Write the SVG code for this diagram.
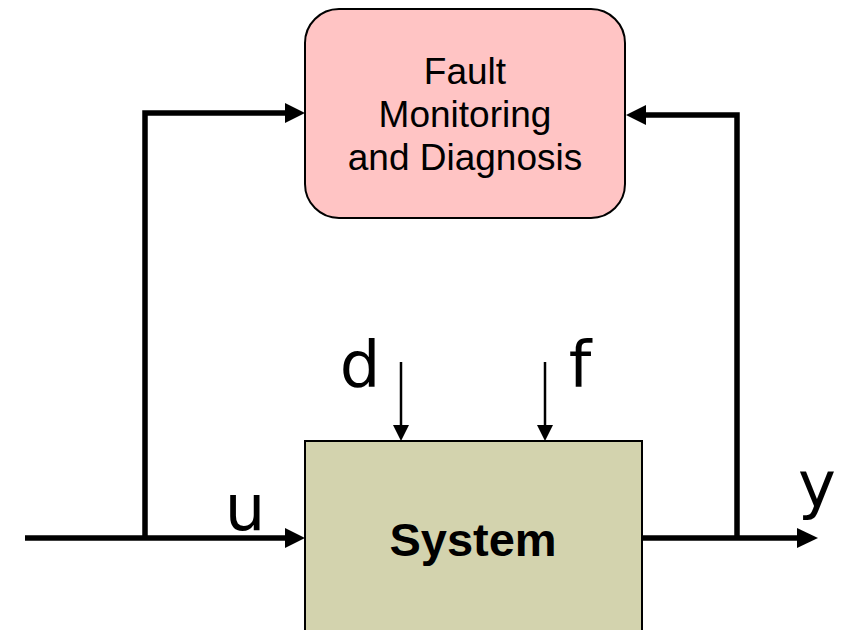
<svg xmlns="http://www.w3.org/2000/svg" width="846" height="630" viewBox="0 0 846 630">
<style>
.box{stroke:#000;stroke-width:2}
.thick{stroke:#000;stroke-width:5.5;fill:none}
.thin{stroke:#000;stroke-width:2.5;fill:none}
.head{fill:#000}
.t{font-family:"Liberation Sans",Arial,sans-serif;fill:#000;text-anchor:middle}
.lab{font-family:"Comic Sans MS","DejaVu Sans",sans-serif;font-size:64px;fill:#000;text-anchor:middle}
</style>
<rect width="846" height="630" fill="#fff"/>
<g id="fault">
<rect class="box" x="305" y="9" width="320" height="209" rx="34" ry="34" fill="#FFC4C4"/>
<text class="t" x="465" y="84" font-size="37">Fault</text>
<text class="t" x="465" y="127" font-size="37">Monitoring</text>
<text class="t" x="465" y="170" font-size="37">and Diagnosis</text>
</g>
<g id="system">
<rect class="box" x="305" y="441" width="337" height="200" fill="#D3D3AE"/>
<text class="t" x="473" y="556" font-size="47" font-weight="bold">System</text>
</g>
<g id="connectors">
<path class="thick" d="M25,538 H287"/>
<polygon class="head" points="305,538 285,528 285,548"/>
<path class="thick" d="M145,538 V113 H287"/>
<polygon class="head" points="305,113 285,103 285,123"/>
<path class="thick" d="M642,538 H799"/>
<polygon class="head" points="818,538 797,528 797,548"/>
<path class="thick" d="M737,538 V115 H644"/>
<polygon class="head" points="626,115 646,105 646,125"/>
<path class="thin" d="M401,362 V427"/>
<polygon class="head" points="401,441 393,425 409,425"/>
<path class="thin" d="M545,362 V427"/>
<polygon class="head" points="545,441 537,425 553,425"/>
</g>
<g id="labels">
<text class="lab" x="360" y="387">d</text>
<text class="lab" x="580" y="387">f</text>
<text class="lab" x="245" y="530">u</text>
<text class="lab" x="817" y="507">y</text>
</g>
</svg>
